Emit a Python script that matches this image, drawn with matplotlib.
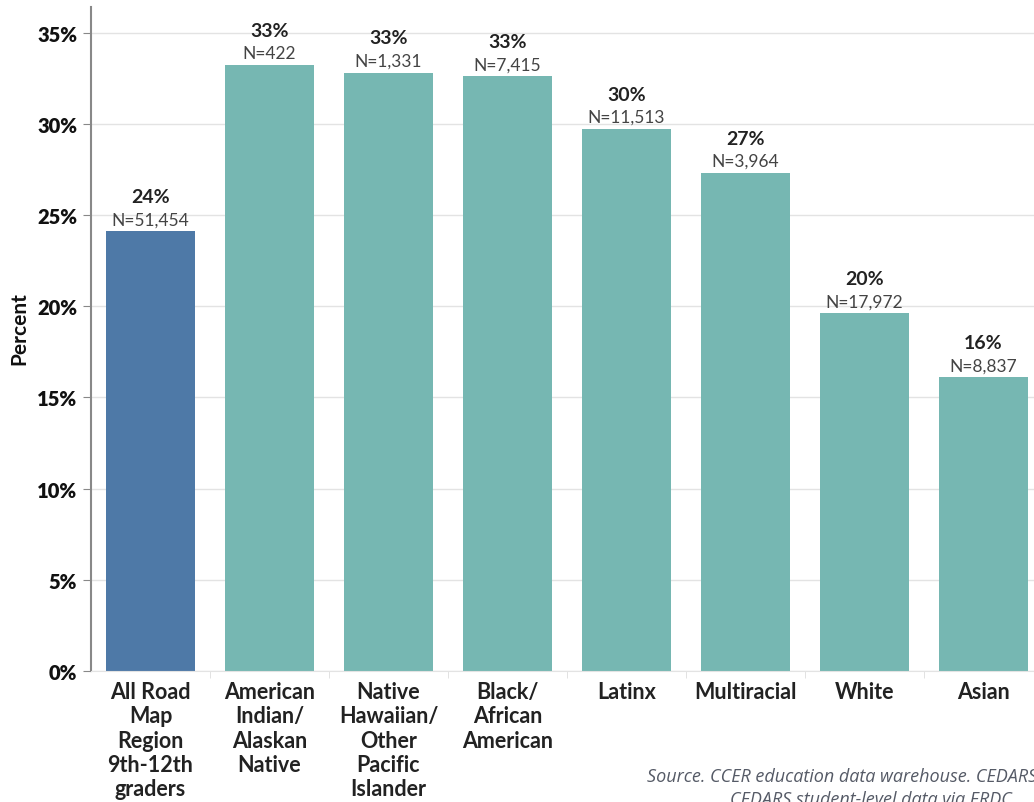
import matplotlib
matplotlib.use("Agg")
from matplotlib import pyplot as plt
from matplotlib.ticker import FixedLocator
import numpy as np

# Groups, rates and counts
groups = ["All Road\nMap\nRegion\n9th-12th\ngraders",
          "American\nIndian/\nAlaskan\nNative",
          "Native\nHawaiian/\nOther\nPacific\nIslander",
          "Black/\nAfrican\nAmerican",
          "Latinx",
          "Multiracial",
          "White",
          "Asian"]
percents = [24.1, 33.2, 32.8, 32.6, 29.7, 27.3, 19.6, 16.1]
counts = ["51,454", "422", "1,331", "7,415", "11,513", "3,964", "17,972", "8,837"]
y_ticks = [0, 5, 10, 15, 20, 25, 30, 35]

plt.rcParams['font.family'] = ['Lato', 'DejaVu Sans']

fig = plt.figure(figsize=(10.34, 8.03), dpi=100)
ax = fig.add_axes([91 / 1034, 131 / 803, 952 / 1034, 664 / 803])

x = np.arange(len(groups))
colors = ["#4e79a7"] + ["#76b7b2"] * (len(groups) - 1)
ax.bar(x, percents, width=0.755, color=colors, zorder=2)

# Value and count labels above each bar
for xi, p, n in zip(x, percents, counts):
    ax.annotate("N=" + n, (xi, p), xytext=(0, 3), textcoords="offset points",
                ha="center", va="bottom", fontsize=12.5, color="#444444")
    ax.annotate("%d%%" % round(p), (xi, p), xytext=(0, 19), textcoords="offset points",
                ha="center", va="bottom", fontsize=14, fontweight="bold", color="#222222")

ax.set_xlim(-0.5, 7.5)
ax.set_ylim(0, 36.4)
ax.set_yticks(y_ticks)
ax.set_yticklabels(["%d%%" % t for t in y_ticks], fontsize=14.5, fontweight="heavy",
                   color="#111111")
ax.set_xticks(x)
ax.set_xticklabels(groups, fontsize=15.5, fontweight="bold", linespacing=1.2, va="top",
                   color="#222222")
ax.xaxis.set_minor_locator(FixedLocator(x[:-1] + 0.5))
ax.tick_params(axis="x", which="major", length=0, pad=7)
ax.tick_params(axis="x", which="minor", length=5, color="#dddddd")
ax.tick_params(axis="y", length=6, color="#888888", pad=4)

ax.grid(axis="y", color="#e3e3e3", linewidth=1, zorder=0)
for side in ["top", "right"]:
    ax.spines[side].set_visible(False)
ax.spines["left"].set_color("#888888")
ax.spines["left"].set_linewidth(1.5)
ax.spines["bottom"].set_color("#e3e3e3")

fig.text(19 / 1034, 1 - 329 / 803, "Percent", rotation=90, ha="center", va="center",
         fontsize=15, fontweight="bold", color="#111111")

# Source note in the lower right corner
fig.text(647 / 1034, 1 - 777 / 803, "Source. CCER education data warehouse. CEDARS and",
         ha="left", va="center", fontsize=13, style="italic", color="#555a66",
         family=["Open Sans", "DejaVu Sans"])
fig.text(730 / 1034, 1 - 800 / 803, "CEDARS student-level data via ERDC.",
         ha="left", va="center", fontsize=13, style="italic", color="#555a66",
         family=["Open Sans", "DejaVu Sans"])

fig.savefig("out.png", dpi=100)
